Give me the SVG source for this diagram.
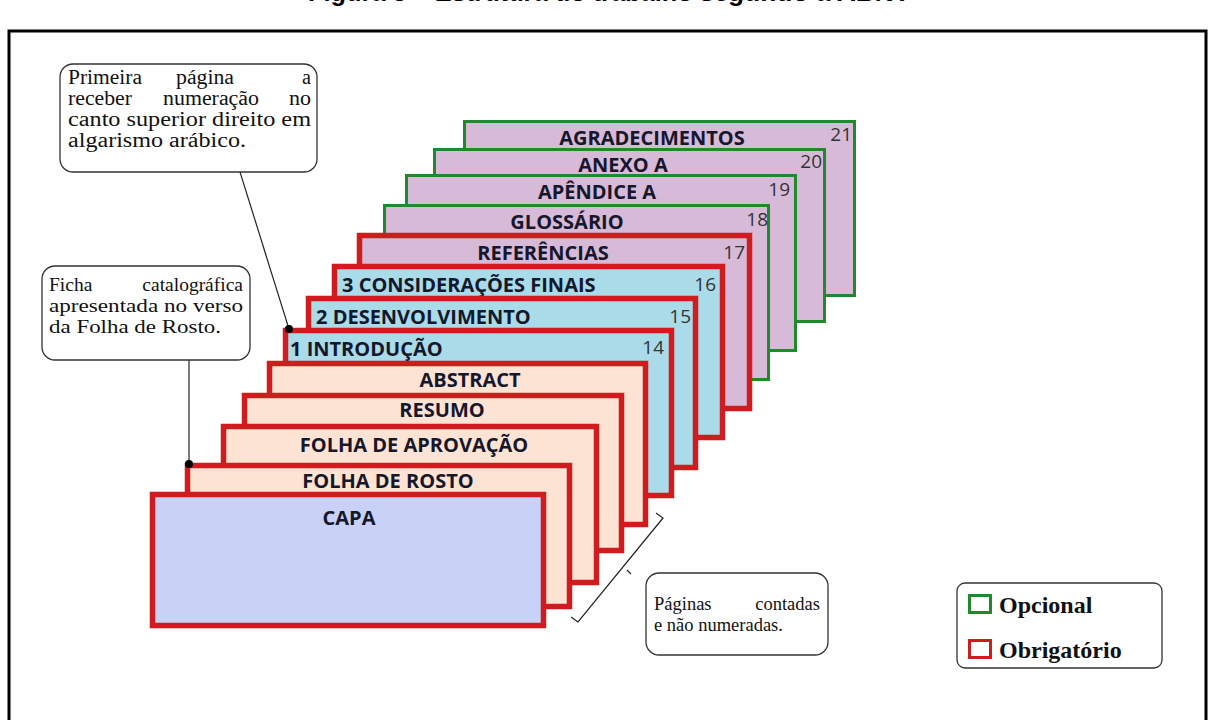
<svg xmlns="http://www.w3.org/2000/svg" width="1211" height="720" viewBox="0 0 1211 720">
<style>
.frame{fill:none;stroke:#000;stroke-width:3}
.title{font-family:"Liberation Sans","Open Sans",sans-serif;font-weight:700;font-size:26px;fill:#000}
.opt{stroke:#1f8a2a;stroke-width:3}
.req{stroke:#d01c1f;stroke-width:5.5}
.lilac{fill:#d7bad8}
.blue{fill:#a9dbe9}
.peach{fill:#fde3d3}
.capa{fill:#c8d2f7}
.lbl{font-family:"Open Sans","Liberation Sans",sans-serif;font-weight:700;font-size:20px;fill:#15172b}
.num{font-family:"Open Sans","Liberation Sans",sans-serif;font-size:19px;fill:#333;text-anchor:end}
.c{text-anchor:middle}
.note{fill:#fff;stroke:#333;stroke-width:1.3}
.nt{font-family:"Liberation Serif","Times New Roman",serif;fill:#111}
.lead{fill:none;stroke:#222;stroke-width:1.2}
.leg{font-family:"Liberation Serif","Times New Roman",serif;font-weight:700;font-size:24px;fill:#111}
</style>
<rect width="1211" height="720" fill="#fff"/>
<text class="title" y="1"><tspan x="308" textLength="420" lengthAdjust="spacingAndGlyphs">Figura 3 – Estrutura do trabalho se</tspan><tspan x="728" textLength="182" lengthAdjust="spacingAndGlyphs">gundo a ABNT</tspan></text>
<rect class="frame" x="9" y="31" width="1197" height="720"/>

<g id="p21"><rect class="opt lilac" x="464.5" y="121.5" width="390" height="174"/><text class="lbl c" x="652" y="145">AGRADECIMENTOS</text><text class="num" x="852" y="141">21</text></g>
<g id="p20"><rect class="opt lilac" x="434.5" y="149.5" width="390" height="172"/><text class="lbl c" x="623" y="172">ANEXO A</text><text class="num" x="822" y="168">20</text></g>
<g id="p19"><rect class="opt lilac" x="406.5" y="175.5" width="389" height="175"/><text class="lbl c" x="597" y="199">APÊNDICE A</text><text class="num" x="790" y="196">19</text></g>
<g id="p18"><rect class="opt lilac" x="384.5" y="205.5" width="384" height="174"/><text class="lbl c" x="567" y="229">GLOSSÁRIO</text><text class="num" x="768" y="226">18</text></g>
<g id="p17"><rect class="req lilac" x="359.5" y="235.5" width="390" height="173"/><text class="lbl c" x="543" y="260">REFERÊNCIAS</text><text class="num" x="745" y="259">17</text></g>
<g id="p16"><rect class="req blue" x="334.5" y="266.5" width="388" height="171"/><text class="lbl" x="342" y="292">3 CONSIDERAÇÕES FINAIS</text><text class="num" x="716" y="291">16</text></g>
<g id="p15"><rect class="req blue" x="308.5" y="298.5" width="387" height="169"/><text class="lbl" x="316" y="324">2 DESENVOLVIMENTO</text><text class="num" x="691" y="323">15</text></g>
<g id="p14"><rect class="req blue" x="285.5" y="330.5" width="386" height="165"/><text class="lbl" x="290" y="356">1 INTRODUÇÃO</text><text class="num" x="664" y="354">14</text></g>
<g id="abstract"><rect class="req peach" x="269.5" y="363.5" width="376" height="161"/><text class="lbl c" x="470" y="387">ABSTRACT</text></g>
<g id="resumo"><rect class="req peach" x="244.5" y="395.5" width="377" height="155"/><text class="lbl c" x="442" y="417">RESUMO</text></g>
<g id="aprovacao"><rect class="req peach" x="223.5" y="426.5" width="373" height="156"/><text class="lbl c" x="414" y="452">FOLHA DE APROVAÇÃO</text></g>
<g id="rosto"><rect class="req peach" x="187.5" y="465.5" width="382" height="141"/><text class="lbl c" x="388" y="488">FOLHA DE ROSTO</text></g>
<g id="capa"><rect class="req capa" x="152.5" y="494.5" width="391" height="131"/><text class="lbl c" x="349" y="525">CAPA</text></g>

<g id="connectors">
<line class="lead" x1="240" y1="172" x2="289" y2="329"/>
<circle cx="289" cy="329" r="4" fill="#000"/>
<line class="lead" x1="189" y1="360" x2="189" y2="464"/>
<circle cx="189" cy="464" r="4" fill="#000"/>
<path class="lead" d="M656 513 L663 518 L578 622 L571 617 M627 570 L631 574"/>
</g>

<g id="note-primeira">
<rect class="note" x="60" y="64" width="257" height="108" rx="13"/>
<text class="nt" font-size="20"><tspan x="68" y="84" textLength="74" lengthAdjust="spacingAndGlyphs">Primeira</tspan><tspan x="176" y="84" textLength="58" lengthAdjust="spacingAndGlyphs">página</tspan><tspan x="302" y="84" textLength="9" lengthAdjust="spacingAndGlyphs">a</tspan></text>
<text class="nt" font-size="20"><tspan x="68" y="105" textLength="64" lengthAdjust="spacingAndGlyphs">receber</tspan><tspan x="163" y="105" textLength="96" lengthAdjust="spacingAndGlyphs">numeração</tspan><tspan x="289" y="105" textLength="22" lengthAdjust="spacingAndGlyphs">no</tspan></text>
<text class="nt" font-size="20"><tspan x="68" y="126" textLength="243" lengthAdjust="spacingAndGlyphs">canto superior direito em</tspan><tspan x="68" y="147" textLength="178" lengthAdjust="spacingAndGlyphs">algarismo arábico.</tspan></text>
</g>
<g id="note-ficha">
<rect class="note" x="42" y="266" width="208" height="94" rx="13"/>
<text class="nt" font-size="19.5"><tspan x="49" y="291">Ficha</tspan><tspan x="243" y="291" text-anchor="end">catalográfica</tspan></text>
<text class="nt" font-size="19.5"><tspan x="49" y="312" textLength="194" lengthAdjust="spacingAndGlyphs">apresentada no verso</tspan><tspan x="49" y="333" textLength="172" lengthAdjust="spacingAndGlyphs">da Folha de Rosto.</tspan></text>
</g>
<g id="note-paginas">
<rect class="note" x="646" y="573" width="182" height="82" rx="13"/>
<text class="nt" font-size="18.5"><tspan x="654" y="610">Páginas</tspan><tspan x="820" y="610" text-anchor="end">contadas</tspan><tspan x="654" y="631">e não numeradas.</tspan></text>
</g>
<g id="legend">
<rect class="note" x="957" y="583" width="205" height="85" rx="8"/>
<rect x="969.5" y="595.5" width="21" height="17" fill="#fff" stroke="#1f8a2a" stroke-width="3"/>
<text class="leg" x="999" y="613">Opcional</text>
<rect x="969.5" y="640.5" width="21" height="17" fill="#fff" stroke="#d01c1f" stroke-width="3"/>
<text class="leg" x="999" y="658">Obrigatório</text>
</g>
</svg>
